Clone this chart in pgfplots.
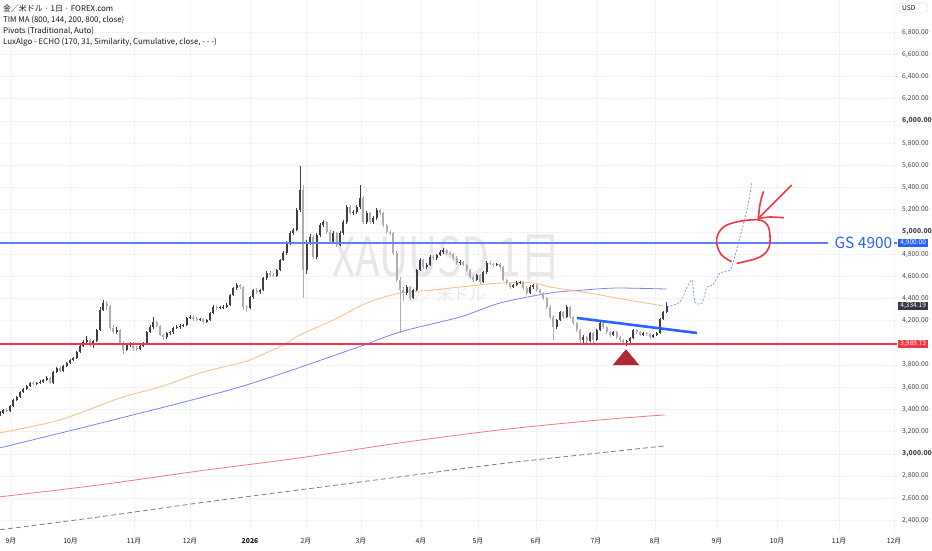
\documentclass[border=0pt]{standalone}
\usepackage{fontspec}
\setmainfont{Noto Sans CJK JP}
\usepackage{pgfplots}
\pgfplotsset{compat=1.18}
\usepackage{pgfplotstable}
\usepackage{graphicx}
\definecolor{upc}{RGB}{62,62,66}
\definecolor{dnc}{RGB}{172,172,178}
\definecolor{maor}{RGB}{255,186,125}
\definecolor{mabl}{RGB}{122,132,245}
\definecolor{mard}{RGB}{247,118,126}
\definecolor{magr}{RGB}{125,125,125}
\definecolor{gsline}{RGB}{96,128,248}
\definecolor{gsblue}{RGB}{41,98,255}
\definecolor{tvred}{RGB}{242,54,69}
\definecolor{tri}{RGB}{178,40,51}
\definecolor{echo}{RGB}{110,145,240}
\definecolor{gridc}{RGB}{240,243,250}
\definecolor{txt}{RGB}{19,23,34}
\definecolor{dkbox}{RGB}{54,58,69}
\definecolor{wm}{RGB}{232,232,236}
\pgfplotstableread{
k o h l c
0 3350 3385 3340 3370
1 3370 3405 3362 3397
2 3397 3410 3375 3388
3 3388 3440 3380 3433
4 3433 3495 3425 3487
5 3487 3525 3478 3514
6 3514 3568 3505 3559
7 3559 3597 3548 3586
8 3586 3622 3575 3613
9 3613 3652 3602 3640
10 3640 3655 3618 3631
11 3631 3652 3620 3640
12 3640 3662 3628 3649
13 3649 3678 3638 3667
14 3667 3700 3655 3685
15 3685 3697 3628 3640
16 3640 3750 3632 3739
17 3739 3788 3728 3775
18 3775 3790 3736 3748
19 3748 3805 3740 3793
20 3793 3832 3782 3820
21 3820 3858 3808 3847
22 3847 3878 3835 3865
23 3865 3930 3855 3919
24 3919 3985 3910 3973
25 3973 4030 3962 4009
26 4009 4060 3995 4027
27 4027 4040 3960 3982
28 3982 4030 3955 4018
29 4018 4128 4008 4117
30 4117 4320 4105 4297
31 4297 4385 4285 4360
32 4360 4380 4300 4333
33 4333 4345 4120 4135
34 4135 4160 4080 4099
35 4099 4140 4085 4117
36 4117 4128 3985 4000
37 4000 4015 3900 3937
38 3937 3995 3925 3982
39 3982 4010 3960 3991
40 3991 4005 3930 3955
41 3955 3970 3925 3946
42 3946 3985 3935 3973
43 3973 4005 3960 3991
44 3991 4110 3980 4099
45 4099 4160 4088 4144
46 4144 4230 4130 4189
47 4189 4200 4140 4153
48 4153 4165 4060 4072
49 4072 4085 4030 4054
50 4054 4100 4040 4090
51 4090 4110 4075 4095
52 4095 4148 4085 4135
53 4135 4160 4122 4144
54 4144 4168 4130 4153
55 4153 4175 4140 4162
56 4162 4238 4150 4225
57 4225 4250 4212 4234
58 4234 4248 4200 4216
59 4216 4230 4195 4207
60 4207 4225 4195 4212
61 4212 4222 4175 4189
62 4189 4220 4178 4207
63 4207 4282 4198 4270
64 4270 4338 4260 4324
65 4324 4345 4300 4315
66 4315 4335 4302 4320
67 4320 4340 4308 4324
68 4324 4358 4312 4342
69 4342 4445 4330 4432
70 4432 4508 4420 4495
71 4495 4540 4480 4522
72 4522 4535 4490 4504
73 4504 4515 4300 4324
74 4324 4345 4280 4318
75 4318 4425 4305 4414
76 4414 4490 4400 4477
77 4477 4492 4440 4459
78 4459 4490 4445 4477
79 4477 4598 4465 4585
80 4585 4645 4570 4630
81 4630 4645 4595 4612
82 4612 4628 4590 4603
83 4603 4670 4592 4657
84 4657 4760 4645 4747
85 4747 4825 4735 4810
86 4810 4915 4795 4900
87 4900 5005 4885 4990
88 4990 5035 4975 5017
89 5017 5215 5005 5197
90 5197 5595 5180 5377
91 5377 5420 4405 4657
92 4657 4930 4620 4900
93 4900 4985 4880 4954
94 4954 4970 4760 4774
95 4774 4990 4760 4972
96 4972 5080 4955 5062
97 5062 5110 5045 5089
98 5089 5100 4985 4999
99 4999 5015 4890 4909
100 4909 5005 4895 4990
101 4990 5000 4865 4882
102 4882 5005 4870 4990
103 4990 5105 4975 5089
104 5089 5240 5075 5224
105 5224 5245 5150 5170
106 5170 5200 5155 5179
107 5179 5240 5165 5224
108 5224 5422 5210 5305
109 5305 5320 5070 5089
110 5089 5185 5075 5170
111 5170 5180 5070 5089
112 5089 5140 5075 5125
113 5125 5215 5110 5197
114 5197 5210 5150 5170
115 5170 5180 5045 5062
116 5062 5075 4985 4999
117 4999 5020 4975 4990
118 4990 5000 4795 4810
119 4810 4825 4550 4567
120 4567 4590 4090 4477
121 4477 4500 4380 4450
122 4450 4520 4435 4504
123 4504 4515 4390 4405
124 4405 4490 4395 4477
125 4477 4670 4465 4657
126 4657 4765 4645 4747
127 4747 4760 4670 4684
128 4684 4720 4665 4702
129 4702 4790 4690 4774
130 4774 4790 4750 4765
131 4765 4805 4752 4792
132 4792 4835 4780 4819
133 4819 4855 4805 4837
134 4837 4850 4795 4810
135 4810 4825 4790 4805
136 4805 4815 4750 4765
137 4765 4780 4705 4720
138 4720 4745 4705 4728
139 4728 4740 4690 4702
140 4702 4715 4640 4657
141 4657 4670 4580 4594
142 4594 4610 4550 4567
143 4567 4625 4555 4612
144 4612 4625 4530 4549
145 4549 4652 4538 4639
146 4639 4735 4625 4720
147 4720 4735 4700 4712
148 4712 4725 4688 4702
149 4702 4722 4690 4708
150 4708 4720 4670 4684
151 4684 4695 4555 4567
152 4567 4580 4525 4540
153 4540 4552 4490 4504
154 4504 4535 4492 4522
155 4522 4555 4510 4540
156 4540 4562 4530 4549
157 4549 4560 4480 4495
158 4495 4510 4435 4450
159 4450 4518 4438 4504
160 4504 4535 4490 4522
161 4522 4535 4462 4477
162 4477 4490 4435 4450
163 4450 4462 4390 4405
164 4405 4418 4310 4324
165 4324 4338 4220 4234
166 4234 4250 4027 4144
167 4144 4220 4130 4207
168 4207 4292 4195 4279
169 4279 4290 4220 4234
170 4234 4338 4222 4324
171 4324 4335 4220 4234
172 4234 4245 4165 4180
173 4180 4192 4100 4117
174 4117 4130 4000 4027
175 4027 4068 3990 4054
176 4054 4066 3995 4020
177 4020 4102 4008 4090
178 4090 4100 3978 4027
179 4027 4130 4015 4117
180 4117 4195 4105 4180
181 4180 4192 4130 4144
182 4144 4155 4085 4099
183 4099 4110 4055 4072
184 4072 4112 4060 4099
185 4099 4110 4040 4054
186 4054 4065 4010 4027
187 4027 4040 3990 4009
188 4009 4030 3975 4015
189 4015 4058 4002 4045
190 4045 4130 4035 4117
191 4117 4128 4085 4099
192 4099 4110 4060 4072
193 4072 4102 4060 4090
194 4090 4100 4065 4078
195 4078 4090 4040 4054
196 4054 4085 4042 4072
197 4072 4102 4060 4090
198 4090 4228 4080 4216
199 4216 4292 4205 4279
200 4279 4372 4268 4334
}\candles
\begin{document}
\begin{tikzpicture}
\begin{axis}[
  at={(0,0)}, anchor=south west,
  scale only axis, width=897pt, height=532pt,
  xmin=0, xmax=269.1, ymin=2297, ymax=7090,
  clip=false,
  axis line style={draw=none},
  tick style={draw=none},
  xmajorgrids, ymajorgrids,
  grid style={gridc, line width=0.6pt},
  xtick={3.24,21.15,40.2,57,75,91.8,108.3,126.3,143.4,160.8,178.8,196.5,215.1,233.1,251.7,268.2},
  xticklabels={9月,10月,11月,12月,\textbf{2026},2月,3月,4月,5月,6月,7月,8月,9月,10月,11月,12月},
  ytick={2400,2600,2800,3000,3200,3400,3600,3800,4000,4200,4400,4600,4800,5000,5200,5400,5600,5800,6000,6200,6400,6600,6800},
  yticklabels={{2,400.00},{2,600.00},{2,800.00},\textbf{3,000.00},{3,200.00},{3,400.00},{3,600.00},{3,800.00},{},{4,200.00},{4,400.00},{4,600.00},{4,800.00},\textbf{5,000.00},{5,200.00},{5,400.00},{5,600.00},{5,800.00},\textbf{6,000.00},{6,200.00},{6,400.00},{6,600.00},{6,800.00}},
  yticklabel pos=right,
  /pgf/number format/assume math mode=true,
  yticklabel style={anchor=west, inner sep=0pt, xshift=5pt, font=\fontsize{6.8}{7}\selectfont, text=txt!80},
  xticklabel style={anchor=center, inner sep=0pt, yshift=-9pt, font=\fontsize{6.8}{7}\selectfont, text=txt},
  xticklabel shift=0pt,
]
% watermark
\node[text=wm, inner sep=0pt] at (axis cs:134,4770) {\scalebox{0.75}[1]{\fontsize{54}{54}\selectfont XAUUSD 1日}};
\node[text=wm, inner sep=0pt] at (axis cs:133.5,4440) {\fontsize{16}{16}\selectfont 金／米ドル};
% moving averages
\addplot[magr, line width=0.8pt, dash pattern=on 5pt off 3pt, smooth] coordinates {(0,2317)(30,2434)(60,2560)(90,2677)(120,2794)(150,2911)(180,3010)(199.5,3073)};
\addplot[mard, line width=0.8pt, smooth] coordinates {(0,2614)(30,2722)(60,2848)(90,2965)(120,3100)(150,3217)(180,3307)(199.5,3352)};
\addplot[mabl, line width=0.8pt, smooth] coordinates {(0,3055)(34,3307)(72,3604)(105,3937)(120,4099)(138,4234)(150,4360)(165,4450)(175,4477)(185,4495)(200,4486)};
\addplot[maor, line width=0.8pt, smooth] coordinates {(0,3190)(18,3307)(36,3505)(48,3604)(60,3730)(72,3820)(75,3847)(85,3982)(90,4072)(100,4207)(110,4360)(120,4450)(130,4477)(138,4504)(150,4540)(160,4540)(165,4504)(175,4459)(185,4405)(199,4333)};
% candles: wicks
\addplot[draw=none, mark=none, restrict expr to domain={\thisrow{c}-\thisrow{o}}{0:100000},
  error bars/.cd, y dir=both, y explicit, error mark=none, error bar style={draw=upc, line width=0.6pt, solid}]
  table[x=k, y=c, y error plus expr=\thisrow{h}-\thisrow{c}, y error minus expr=\thisrow{c}-\thisrow{l}] {\candles};
\addplot[draw=none, mark=none, restrict expr to domain={\thisrow{c}-\thisrow{o}}{-100000:-0.001},
  error bars/.cd, y dir=both, y explicit, error mark=none, error bar style={draw=dnc, line width=0.6pt, solid}]
  table[x=k, y=c, y error plus expr=\thisrow{h}-\thisrow{c}, y error minus expr=\thisrow{c}-\thisrow{l}] {\candles};
% candles: bodies
\addplot[draw=none, mark=none, restrict expr to domain={\thisrow{c}-\thisrow{o}}{0:100000},
  error bars/.cd, y dir=both, y explicit, error mark=none, error bar style={draw=upc, line width=2.2pt, solid, line cap=butt}]
  table[x=k, y=c, y error plus expr=0, y error minus expr=\thisrow{c}-\thisrow{o}] {\candles};
\addplot[draw=none, mark=none, restrict expr to domain={\thisrow{c}-\thisrow{o}}{-100000:-0.001},
  error bars/.cd, y dir=both, y explicit, error mark=none, error bar style={draw=dnc, line width=2.2pt, solid, line cap=butt}]
  table[x=k, y=c, y error plus expr=\thisrow{o}-\thisrow{c}, y error minus expr=0] {\candles};
% horizontal levels
\addplot[tvred, line width=2.2pt] coordinates {(0,3989.73)(269.1,3989.73)};
\addplot[gsline, line width=1.2pt] coordinates {(0,4900)(248.5,4900)};
\addplot[gsline, line width=1.2pt] coordinates {(268.3,4900)(269.1,4900)};
\node[anchor=west, inner sep=0pt, text=gsblue] at (axis cs:250.3,4900) {\fontsize{15.5}{16}\selectfont GS 4900};
% trend line
\addplot[gsblue, line width=2.6pt] coordinates {(173.1,4225)(209.1,4090)};
% triangle
\addplot[fill=tri, draw=tri, line width=0.4pt] coordinates {(183.9,3800)(187.8,3940)(191.7,3800)};
% ECHO forecast
\addplot[echo, line width=0.7pt, dash pattern=on 2pt off 1.6pt, smooth, tension=0.4] coordinates {(200.1,4324)(204,4369)(206.1,4504)(207.6,4567)(208.5,4369)(210.6,4360)(212.1,4504)(213.9,4522)(216,4630)(219,4657)(219.9,4720)(222,4954)(224.1,5197)(225.6,5449)};
% hand-drawn annotation
\addplot[tvred, line width=1.6pt, smooth, tension=0.6] coordinates {(219.5,4732)(216.5,4792)(215,4897)(215.5,4987)(218,5062)(223,5101)(228,5107)(230.5,5047)(231,4912)(230,4822)(227,4762)(221,4717)};
\addplot[tvred, line width=1.6pt, line cap=round] coordinates {(237.5,5422)(227.5,5122)};
\addplot[tvred, line width=1.6pt, line cap=round, smooth] coordinates {(229,5362)(228,5250)(227.5,5122)};
\addplot[tvred, line width=1.6pt, line cap=round, smooth] coordinates {(227.5,5122)(231,5135)(235,5128)};
% price boxes
\node[anchor=west, xshift=1pt, fill=gsblue, text=white, inner xsep=2pt, inner ysep=0.6pt, minimum width=30pt, font=\fontsize{6.6}{7}\selectfont] at (axis cs:269.1,4900) {4,900.00};
\node[anchor=west, xshift=1pt, fill=dkbox, text=white, inner xsep=2pt, inner ysep=0.6pt, minimum width=30pt, font=\fontsize{6.6}{7}\selectfont] at (axis cs:269.1,4334.19) {4,334.19};
\node[anchor=west, xshift=1pt, fill=tvred, text=white, inner xsep=2pt, inner ysep=0.6pt, minimum width=30pt, font=\fontsize{6.6}{7}\selectfont] at (axis cs:269.1,3989.73) {3,989.73};
\end{axis}
% header
\node[anchor=north west, align=left, inner sep=0pt, text=txt, font=\fontsize{7.9}{11}\selectfont] at (3pt,527pt) {金／米ドル · 1日 · FOREX.com\\TIM MA (800, 144, 200, 800, close)\\Pivots (Traditional, Auto)\\LuxAlgo - ECHO (170, 31, Similarity, Cumulative, close, - - -)};
\node[anchor=north west, draw=gray!30, fill=white, rounded corners=1.5pt, inner xsep=3pt, inner ysep=2pt, text width=22pt, align=left, text=txt, font=\fontsize{6.6}{7}\selectfont] at (899pt,529pt) {USD};
\pgfresetboundingbox
\useasboundingbox (0pt,-18pt) rectangle (932pt,532pt);
\end{tikzpicture}
\end{document}
